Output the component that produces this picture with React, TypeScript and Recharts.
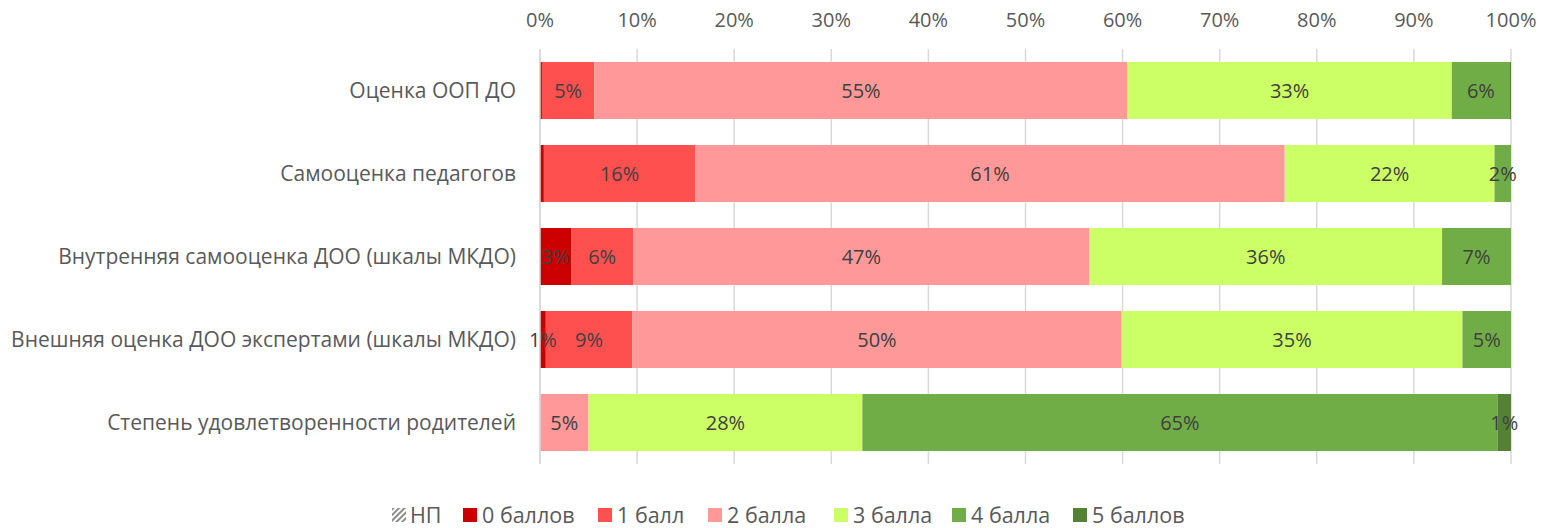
import React from "react";
import { BarChart, Bar, XAxis, YAxis, CartesianGrid, LabelList, Legend } from "recharts";

const categories = [
  "Оценка ООП ДО",
  "Самооценка педагогов",
  "Внутренняя самооценка ДОО (шкалы МКДО)",
  "Внешняя оценка ДОО экспертами (шкалы МКДО)",
  "Степень удовлетворенности родителей",
];

const seriesNames = ["НП", "0 баллов", "1 балл", "2 балла", "3 балла", "4 балла", "5 баллов"];
const np = [0, 0, 0, 0, 0];
const b0 = [0.2, 0.4, 3.2, 0.6, 0];
const b1 = [5.4, 15.6, 6.4, 8.9, 0];
const b2 = [54.9, 60.7, 47.0, 50.4, 5.0];
const b3 = [33.4, 21.6, 36.3, 35.1, 28.2];
const b4 = [6.0, 1.7, 7.1, 5.0, 65.4];
const b5 = [0.1, 0, 0, 0, 1.4];
const xTicks = [0, 10, 20, 30, 40, 50, 60, 70, 80, 90, 100];

const seriesValues = [np, b0, b1, b2, b3, b4, b5];
const keys = ["np", "b0", "b1", "b2", "b3", "b4", "b5"];
const colors = ["url(#npHatch)", "#CC0000", "#FF5050", "#FF9999", "#CCFF66", "#70AD47", "#548235"];

const data = categories.map((c, i) => {
  const row: any = { name: c };
  keys.forEach((k, j) => (row[k] = seriesValues[j][i]));
  return row;
});

const FONT = "'Open Sans', sans-serif";
const TEXT = "#595959";

const YTick = (props: any) => {
  const { x, y, payload } = props;
  return (
    <text x={x} y={y} dy="0.36em" textAnchor="end" fill={TEXT} fontSize={21} fontFamily={FONT}>
      {payload.value}
    </text>
  );
};

const XTick = (props: any) => {
  const { x, payload } = props;
  return (
    <text x={x} y={19} textAnchor="middle" fill={TEXT} fontSize={20} fontFamily={FONT}>
      {`${payload.value}%`}
    </text>
  );
};

const legendWidths = [71, 135, 110, 126, 118, 121, 130];

const LegendContent = () => (
  <div
    style={{
      height: 64,
      boxSizing: "border-box",
      paddingTop: 38,
      paddingLeft: 384,
      display: "flex",
      fontFamily: FONT,
      fontSize: 21.5,
      color: TEXT,
      lineHeight: "24px",
    }}
  >
    {seriesNames.map((n, i) => (
      <div
        key={n}
        style={{ width: legendWidths[i], flexShrink: 0, display: "flex", alignItems: "center", whiteSpace: "nowrap" }}
      >
        <svg width={14} height={14} style={{ marginRight: i === 0 ? 4 : 5, flexShrink: 0 }}>
          <defs>
            <pattern id="npHatchL" patternUnits="userSpaceOnUse" width="4" height="4" patternTransform="rotate(45)">
              <rect width="4" height="4" fill="#ffffff" />
              <rect width="2" height="4" fill="#8c8c8c" />
            </pattern>
          </defs>
          <rect width={14} height={14} fill={i === 0 ? "url(#npHatchL)" : colors[i]} />
        </svg>
        <span>{n}</span>
      </div>
    ))}
  </div>
);

const fmt = (v: any) => (typeof v === "number" && Math.round(v) >= 1 ? `${Math.round(v)}%` : "");

export default function App() {
  return (
    <BarChart
      width={1541}
      height={520}
      data={data}
      layout="vertical"
      margin={{ top: 0, right: 38, bottom: 0, left: 0 }}
    >
      <defs>
        <pattern id="npHatch" patternUnits="userSpaceOnUse" width="4" height="4" patternTransform="rotate(45)">
          <rect width="4" height="4" fill="#ffffff" />
          <rect width="2" height="4" fill="#8c8c8c" />
        </pattern>
      </defs>
      <CartesianGrid horizontal={false} stroke="#d9d9d9" strokeWidth={1.5} />
      <XAxis
        type="number"
        orientation="top"
        domain={[0, 100]}
        ticks={xTicks}
        allowDataOverflow
        height={41}
        axisLine={false}
        tickLine={false}
        tickSize={0}
        tickMargin={22}
        tick={<XTick />}
        interval={0}
      />
      <YAxis
        type="category"
        dataKey="name"
        width={532}
        axisLine={{ stroke: "#d9d9d9", strokeWidth: 1.5 }}
        tickLine={false}
        tickSize={0}
        tickMargin={24}
        tick={<YTick />}
        interval={0}
      />
      <Legend verticalAlign="bottom" content={<LegendContent />} />
      {keys.map((k, i) => (
        <Bar key={k} dataKey={k} name={seriesNames[i]} stackId="s" fill={colors[i]} barSize={57} isAnimationActive={false}>
          <LabelList
            dataKey={k}
            position="center"
            formatter={fmt}
            fill="#404040"
            fontSize={20}
            fontFamily={FONT}
          />
        </Bar>
      ))}
    </BarChart>
  );
}
